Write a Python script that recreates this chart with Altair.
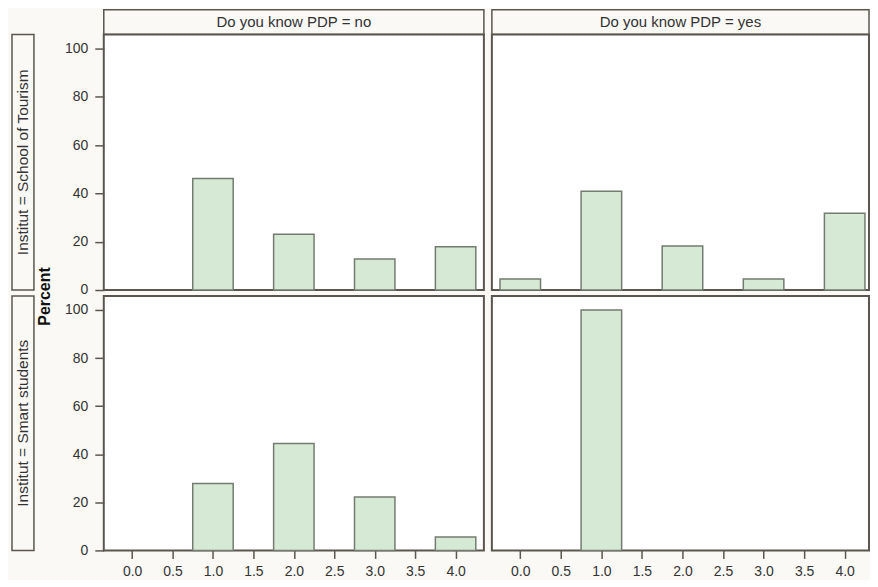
import altair as alt
import pandas as pd

# ---------------- data ----------------
values = [0, 1, 2, 3, 4]
pct_tourism_no = [0.0, 46.15, 23.08, 12.82, 17.95]
pct_tourism_yes = [4.55, 40.91, 18.18, 4.55, 31.82]
pct_smart_no = [0.0, 27.78, 44.44, 22.22, 5.56]
pct_smart_yes = [0.0, 100.0, 0.0, 0.0, 0.0]
col_labels = ["Do you know PDP = no", "Do you know PDP = yes"]
row_labels = ["Institut = School of Tourism", "Institut = Smart students"]
x_tick_values = [0.0, 0.5, 1.0, 1.5, 2.0, 2.5, 3.0, 3.5, 4.0]
y_tick_values = [0, 20, 40, 60, 80, 100]
y_title = "Percent"
bin_half_width = 0.25

# ---------------- style ----------------
FONT = "Liberation Sans"
FRAME = "#5b564f"
BG = "#faf9f5"
BAR_FILL = "#d5e9d5"
BAR_STROKE = "#747c71"
TEXT = "#333333"

PW = 381
PW2 = 378
PH_TOP = 256
PH_BOT = 255
STRIP_H = 25
STRIP_W = 22
GAP = 6

x_scale_left = alt.Scale(domain=[-0.35, 4.35], nice=False, zero=False)
x_scale_right = alt.Scale(domain=[-0.35, 4.3], nice=False, zero=False)
y_scale = alt.Scale(domain=[0, 105.8], nice=False, zero=True)


def blank(w, h):
    return (
        alt.Chart(pd.DataFrame({"t": pd.Series([], dtype=str)}))
        .mark_text()
        .encode(text="t:N")
        .properties(width=w, height=h,
                    view=alt.ViewBackground(fill="transparent", stroke="transparent"))
    )


def col_strip(label, w):
    return (
        alt.Chart(pd.DataFrame({"label": [label]}))
        .mark_text(font=FONT, fontSize=15, color=TEXT)
        .encode(text="label:N")
        .properties(width=w, height=STRIP_H,
                    view=alt.ViewBackground(fill=BG, stroke=FRAME, strokeWidth=1.5))
    )


def row_strip(label, h):
    return (
        alt.Chart(pd.DataFrame({"label": [label]}))
        .mark_text(font=FONT, fontSize=15.5, color=TEXT, angle=270)
        .encode(text="label:N")
        .properties(width=STRIP_W, height=h,
                    view=alt.ViewBackground(fill=BG, stroke=FRAME, strokeWidth=1.5))
    )


def panel(pcts, w, h, xs, show_x, show_y, with_title=False):
    df = pd.DataFrame({"value": values, "pct": pcts})
    df["lo"] = df["value"] - bin_half_width
    df["hi"] = df["value"] + bin_half_width
    df = df[df["pct"] > 0]

    if show_x:
        xaxis = alt.Axis(values=x_tick_values, format=".1f", title=None,
                         tickSize=8, tickWidth=1.5, tickColor=FRAME,
                         labelPadding=6, labelFontSize=14, labelColor=TEXT,
                         labelFont=FONT, domain=False, grid=False)
        x_enc = alt.X("lo:Q", scale=xs, axis=xaxis)
    else:
        x_enc = alt.X("lo:Q", scale=xs, axis=None)

    if show_y:
        kw = dict(values=y_tick_values, tickSize=9, tickWidth=1.5, tickColor=FRAME,
                  labelPadding=7, labelFontSize=14, labelColor=TEXT, labelFont=FONT,
                  domain=False, grid=False)
        if with_title:
            kw.update(title=y_title, titleX=-59, titleY=0, titleAngle=270,
                      titleAlign="center", titleBaseline="middle",
                      titleFontSize=16, titleFontWeight="bold", titleFont=FONT,
                      titleColor="#111111")
        else:
            kw.update(title=None)
        y_enc = alt.Y("pct:Q", scale=y_scale, axis=alt.Axis(**kw))
    else:
        y_enc = alt.Y("pct:Q", scale=y_scale, axis=None)

    return (
        alt.Chart(df)
        .mark_rect(fill=BAR_FILL, stroke=BAR_STROKE, strokeWidth=1.5)
        .encode(x=x_enc, x2="hi:Q", y=y_enc, y2=alt.datum(0))
        .properties(width=w, height=h,
                    view=alt.ViewBackground(fill="white", stroke=FRAME, strokeWidth=2))
    )


col0 = alt.vconcat(
    blank(STRIP_W, STRIP_H),
    row_strip(row_labels[0], PH_TOP),
    blank(STRIP_W, GAP),
    row_strip(row_labels[1], PH_BOT),
    spacing=0, bounds="flush",
)
col1 = alt.vconcat(
    col_strip(col_labels[0], PW),
    panel(pct_tourism_no, PW, PH_TOP, x_scale_left, False, True),
    blank(PW, GAP),
    panel(pct_smart_no, PW, PH_BOT, x_scale_left, True, True, with_title=True),
    spacing=0, bounds="flush",
)
col2 = alt.vconcat(
    col_strip(col_labels[1], PW2),
    panel(pct_tourism_yes, PW2, PH_TOP, x_scale_right, False, False),
    blank(PW2, GAP),
    panel(pct_smart_yes, PW2, PH_BOT, x_scale_right, True, False),
    spacing=0, bounds="flush",
)

chart = (
    alt.hconcat(col0, col1, blank(4, 20), col2, spacing=0)
    .properties(background=BG, padding={"left": 3, "top": 0, "right": 0, "bottom": 0})
    .configure(font=FONT)
    .configure_axis(grid=False)
)

chart.save("out.html", embed_options={"renderer": "svg", "actions": False})
